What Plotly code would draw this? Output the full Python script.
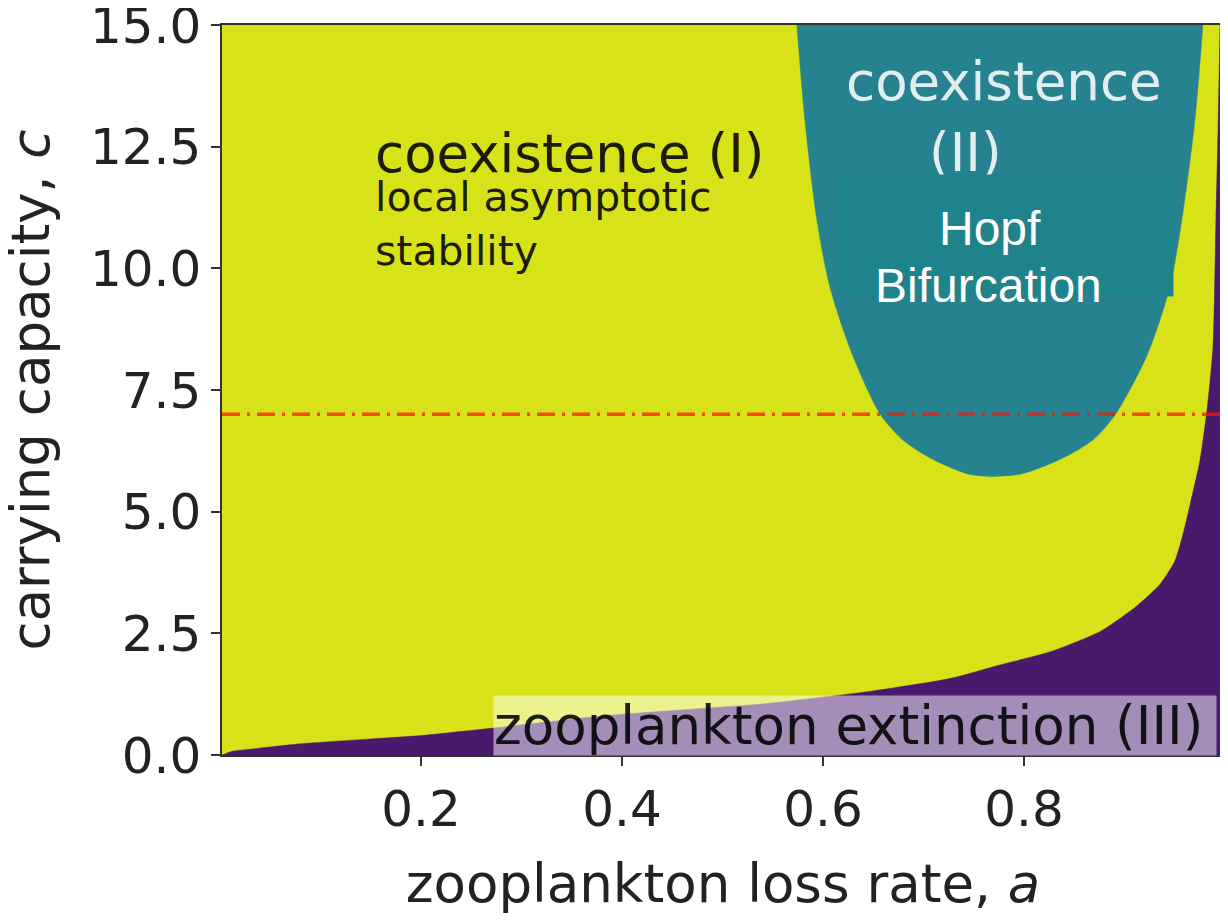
import plotly.graph_objects as go

# boundary of the zooplankton-extinction region (III)
EXT_A = [0.002, 0.013, 0.03, 0.08, 0.15, 0.20, 0.27, 0.39, 0.54, 0.644, 0.726,
         0.776, 0.826, 0.876, 0.909, 0.935, 0.950, 0.959, 0.966, 0.975, 0.982,
         0.988, 0.991, 0.993, 0.995]
EXT_C = [0.0, 0.08, 0.12, 0.23, 0.33, 0.40, 0.55, 0.82, 1.05, 1.30, 1.57,
         1.85, 2.12, 2.54, 3.01, 3.50, 3.98, 4.60, 5.21, 6.04, 7.07,
         8.37, 11.05, 12.78, 15.0]

# coexistence (II) / Hopf region: left and right edge at each c level
HOPF_C = [15.0, 13.04, 10.99, 9.61, 8.24, 7.0, 6.5, 6.18, 5.95, 5.77, 5.72]
HOPF_A_LEFT = [0.574, 0.582, 0.594, 0.607, 0.629, 0.657, 0.678, 0.700,
               0.722, 0.745, 0.768]
HOPF_A_RIGHT = [0.978, 0.970, 0.957, 0.945, 0.923, 0.891, 0.870, 0.846,
                0.822, 0.796, 0.768]

C_SLICE = 7.0

X_RANGE = [0.002, 0.999]
Y_RANGE = [0, 15.001]
X_TICKS = [0.2, 0.4, 0.6, 0.8]
Y_TICKS = [0.0, 2.5, 5.0, 7.5, 10.0, 12.5, 15.0]

YELLOW = "#d8e219"
TEAL = "#26828e"
PURPLE = "#481a6c"
FONT = "DejaVu Sans"

fig = go.Figure()

fig.add_trace(go.Scatter(
    x=EXT_A, y=EXT_C, mode="lines", fill="tozeroy",
    fillcolor=PURPLE, line=dict(color=PURPLE, width=0.5, shape="spline",
                                smoothing=0.6),
    hoverinfo="skip", showlegend=False,
))

hopf_x = HOPF_A_LEFT + HOPF_A_RIGHT[::-1]
hopf_y = HOPF_C + HOPF_C[::-1]
fig.add_trace(go.Scatter(
    x=hopf_x, y=hopf_y, mode="lines", fill="toself",
    fillcolor=TEAL, line=dict(color=TEAL, width=0.5, shape="spline",
                              smoothing=0.8),
    hoverinfo="skip", showlegend=False,
))

fig.add_hline(y=C_SLICE, line=dict(color="rgba(255,20,0,0.72)", width=3.5,
                                   dash="18px,7px,3px,7px"))

dark = "rgba(0,0,0,0.88)"
annos = [
    dict(x=0.152, y=12.37, text="coexistence (I)", xanchor="left",
         font=dict(size=53, color=dark)),
    dict(x=0.152, y=11.47, text="local asymptotic", xanchor="left",
         font=dict(size=41, color=dark)),
    dict(x=0.152, y=10.36, text="stability", xanchor="left",
         font=dict(size=41, color=dark)),
    dict(x=0.780, y=13.83, text="coexistence", xanchor="center",
         font=dict(size=53, color="rgba(240,248,246,0.92)")),
    dict(x=0.742, y=12.39, text="(II)", xanchor="center",
         font=dict(size=53, color="rgba(240,248,246,0.92)")),
    # Hopf box drawn over the (II) line
    dict(x=0.615, y=11.93, text=" ", xanchor="left", yanchor="top",
         width=334, height=121, bgcolor="#1f838b", borderpad=0,
         font=dict(size=10)),
    dict(x=0.766, y=10.81, text="Hopf", xanchor="center",
         font=dict(size=48, color="white", family="Liberation Sans")),
    dict(x=0.765, y=9.64, text="Bifurcation", xanchor="center",
         font=dict(size=48, color="white", family="Liberation Sans")),
    dict(x=0.2716, y=1.233, text="zooplankton extinction (III)",
         xanchor="left", yanchor="top", align="left",
         width=722, height=59, borderpad=0,
         bgcolor="rgba(255,255,255,0.5)",
         font=dict(size=53, color="rgba(0,0,0,0.88)")),
]
for a in annos:
    fig.add_annotation(xref="x", yref="y", showarrow=False, **a)

# y-axis title as a rotated annotation so it can sit close to the edge
fig.add_annotation(
    xref="paper", yref="paper", x=-0.192, y=0.5, showarrow=False,
    text="carrying capacity, <i>c</i>", textangle=-90,
    xanchor="center", yanchor="middle",
    font=dict(size=53, color="#222"),
)

fig.update_xaxes(
    range=X_RANGE, tickvals=X_TICKS, ticktext=[f"{v:.1f}" for v in X_TICKS],
    showgrid=False, zeroline=False, showline=True, mirror=True,
    linecolor="#333", linewidth=1.5, ticks="outside", ticklen=9,
    tickcolor="#333", tickwidth=1.5, ticklabeloverflow="allow",
    automargin=False,
    tickfont=dict(size=50, color="#222"),
    title=dict(text="zooplankton loss rate, <i>a</i>",
               font=dict(size=53, color="#222"), standoff=28),
)
fig.update_yaxes(
    range=Y_RANGE, tickvals=Y_TICKS, ticktext=[f"{v:.1f}" for v in Y_TICKS],
    showgrid=False, zeroline=False, showline=True, mirror=True,
    linecolor="#333", linewidth=1.5, ticks="outside", ticklen=9,
    tickcolor="#333", tickwidth=1.5, ticklabeloverflow="allow",
    automargin=False,
    tickfont=dict(size=50, color="#222"),
)

# the page puts the figure 8px in from the top-left corner
fig.update_layout(
    width=1220, height=912,
    margin=dict(l=214, r=4, t=17, b=165),
    paper_bgcolor="white", plot_bgcolor=YELLOW,
    font=dict(family=FONT, color="#222"),
    showlegend=False,
)

fig.write_html("out.html")
